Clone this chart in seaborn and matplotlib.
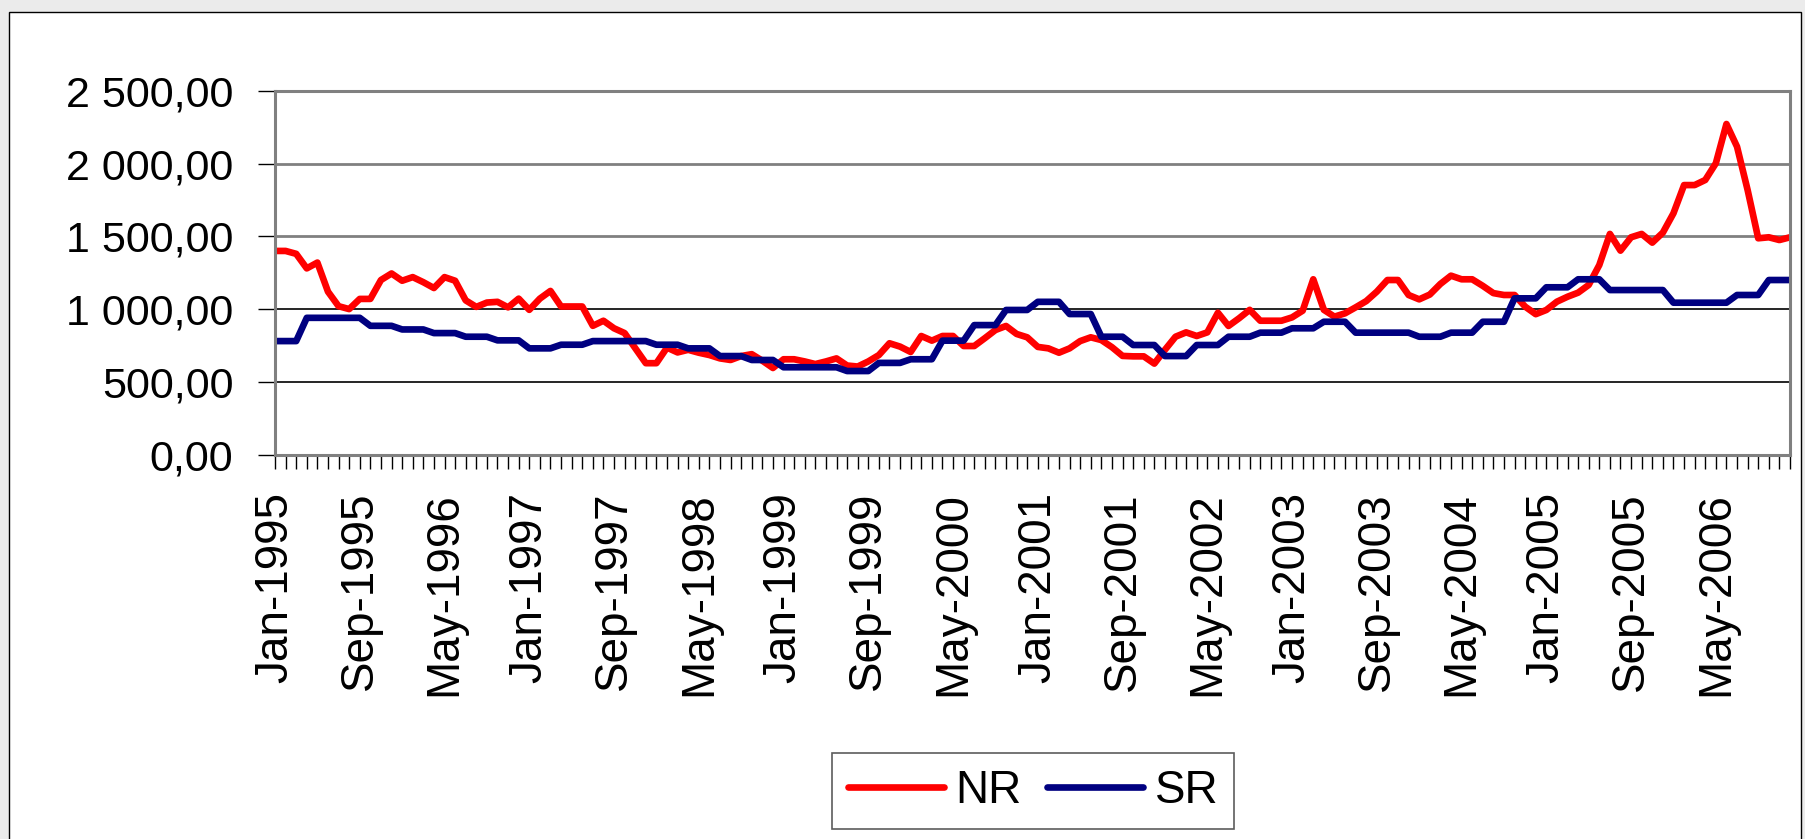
import matplotlib
matplotlib.use("Agg")
import matplotlib.pyplot as plt
from matplotlib.patches import Rectangle
from matplotlib.ticker import FixedLocator, FuncFormatter
import numpy as np
import pandas as pd
import seaborn as sns

# monthly categories, Jan 1995 .. Dec 2006
months = pd.date_range("1995-01-01", periods=144, freq="MS")
month_labels = [m.strftime("%b-%Y") for m in months]

nr = [
    1400, 1400, 1380, 1280, 1320, 1120, 1020, 1000, 1070, 1070, 1200, 1245,
    1195, 1220, 1185, 1145, 1220, 1195, 1060, 1015, 1045, 1050, 1012, 1072,
    995, 1072, 1125, 1018, 1018, 1018, 885, 920, 868, 835, 732, 628,
    628, 735, 702, 720, 700, 684, 661, 650, 677, 690, 645, 595,
    655, 655, 640, 622, 640, 661, 612, 605, 640, 684, 765, 742,
    705, 815, 783, 815, 815, 746, 746, 800, 856, 884, 829, 806,
    740, 730, 700, 730, 780, 806, 787, 738, 678, 675, 675, 625,
    720, 810, 840, 815, 840, 975, 884, 937, 995, 920, 920, 920,
    943, 989, 1205, 995, 948, 971, 1012, 1055, 1120, 1200, 1200, 1097,
    1067, 1100, 1173, 1230, 1205, 1205, 1160, 1110, 1097, 1097, 1017, 965,
    994, 1051, 1085, 1113, 1166, 1303, 1517, 1402, 1494, 1517, 1457, 1526,
    1659, 1853, 1853, 1888, 2003, 2273, 2117, 1819, 1487, 1494, 1475, 1494,
]

sr = [
    780, 780, 780, 940, 940, 940, 940, 940, 940, 885, 885, 885,
    860, 860, 860, 835, 835, 835, 810, 810, 810, 785, 785, 785,
    730, 730, 730, 755, 755, 755, 780, 780, 780, 780, 780, 780,
    755, 755, 755, 730, 730, 730, 677, 677, 677, 650, 650, 650,
    600, 600, 600, 600, 600, 600, 574, 574, 574, 630, 630, 630,
    655, 655, 655, 783, 783, 783, 890, 890, 890, 994, 994, 994,
    1050, 1050, 1050, 966, 966, 966, 810, 810, 810, 753, 753, 753,
    677, 677, 677, 753, 753, 753, 810, 810, 810, 838, 838, 838,
    868, 868, 868, 913, 913, 913, 838, 838, 838, 838, 838, 838,
    810, 810, 810, 838, 838, 838, 913, 913, 913, 1074, 1074, 1074,
    1150, 1150, 1150, 1205, 1205, 1205, 1131, 1131, 1131, 1131, 1131, 1131,
    1044, 1044, 1044, 1044, 1044, 1044, 1097, 1097, 1097, 1200, 1200, 1200,
]

series_names = ["NR", "SR"]
series_colors = {"NR": "#ff0000", "SR": "#000080"}
y_ticks = [0, 500, 1000, 1500, 2000, 2500]

sns.set_style("white")
plt.rcParams["font.family"] = ["Liberation Sans", "DejaVu Sans"]
plt.rcParams["text.color"] = "black"
plt.rcParams["xtick.color"] = "black"
plt.rcParams["ytick.color"] = "black"

W, H = 1805, 839
fig = plt.figure(figsize=(W / 100, H / 100), dpi=100)
fig.patch.set_facecolor("#ebebeb")
fig.patches.append(Rectangle((9 / W, -0.05), (1801 - 9) / W, 1 - 12 / H + 0.05,
                             transform=fig.transFigure, facecolor="white",
                             edgecolor="black", lw=1.0, zorder=-10))

ax = fig.add_axes([275 / W, 1 - 454.5 / H, (1790 - 275) / W, (454.5 - 91) / H])
ax.set_zorder(5)
ax.set_facecolor("white")

df = pd.DataFrame({
    "pos": list(range(len(months))) * 2,
    "value": nr + sr,
    "series": ["NR"] * len(nr) + ["SR"] * len(sr),
})
sns.lineplot(data=df, x="pos", y="value", hue="series", hue_order=series_names,
             palette=series_colors, linewidth=4.8, ax=ax, legend=False,
             solid_joinstyle="round", solid_capstyle="butt")

ax.set_xlim(0, len(months) - 1)
ax.set_ylim(0, 2500)
ax.set_xlabel("")
ax.set_ylabel("")

# y axis
ax.set_yticks(y_ticks)
ax.yaxis.set_major_formatter(FuncFormatter(
    lambda v, _: f"{v:,.2f}".replace(",", " ").replace(".", ",")))
ax.tick_params(axis="y", direction="out", length=12, width=1.0, color="black",
               pad=18, labelsize=31, left=True, labelcolor="black")

# x axis: label every 8 months, tick every month
ax.xaxis.set_major_locator(FixedLocator(list(range(0, len(months), 8))))
ax.set_xticklabels(month_labels[::8], rotation=90)
ax.xaxis.set_minor_locator(FixedLocator(list(range(len(months)))))
ax.tick_params(axis="x", which="both", direction="out", length=10, width=1.0,
               color="black", bottom=True)
ax.tick_params(axis="x", which="major", pad=17, labelsize=33, labelcolor="black")

# grid: lower lines black, upper lines grey
ax.grid(False)
for v in y_ticks[1:-1]:
    c = "black" if v <= 1000 else "#808080"
    lw = 1.2 if v <= 1000 else 2.0
    ax.axhline(v, color=c, lw=lw, zorder=0.5)

for side in ["left", "bottom", "top", "right"]:
    ax.spines[side].set_visible(True)
    ax.spines[side].set_color("#808080")
    ax.spines[side].set_linewidth(2.2)

handles = [plt.Line2D([], [], color=series_colors[n], lw=4.8,
                      solid_capstyle="round") for n in series_names]
leg = fig.legend(handles, series_names, loc="center",
                 bbox_to_anchor=(1033 / W, 1 - 791 / H), ncol=2,
                 fontsize=33, frameon=True, fancybox=False, shadow=False,
                 handlelength=2.1, handletextpad=0.25, columnspacing=0.55,
                 borderpad=0.35, borderaxespad=0)
leg.get_frame().set_edgecolor("#333333")
leg.get_frame().set_linewidth(1.2)

fig.savefig("out.png", dpi=100, facecolor=fig.get_facecolor())
